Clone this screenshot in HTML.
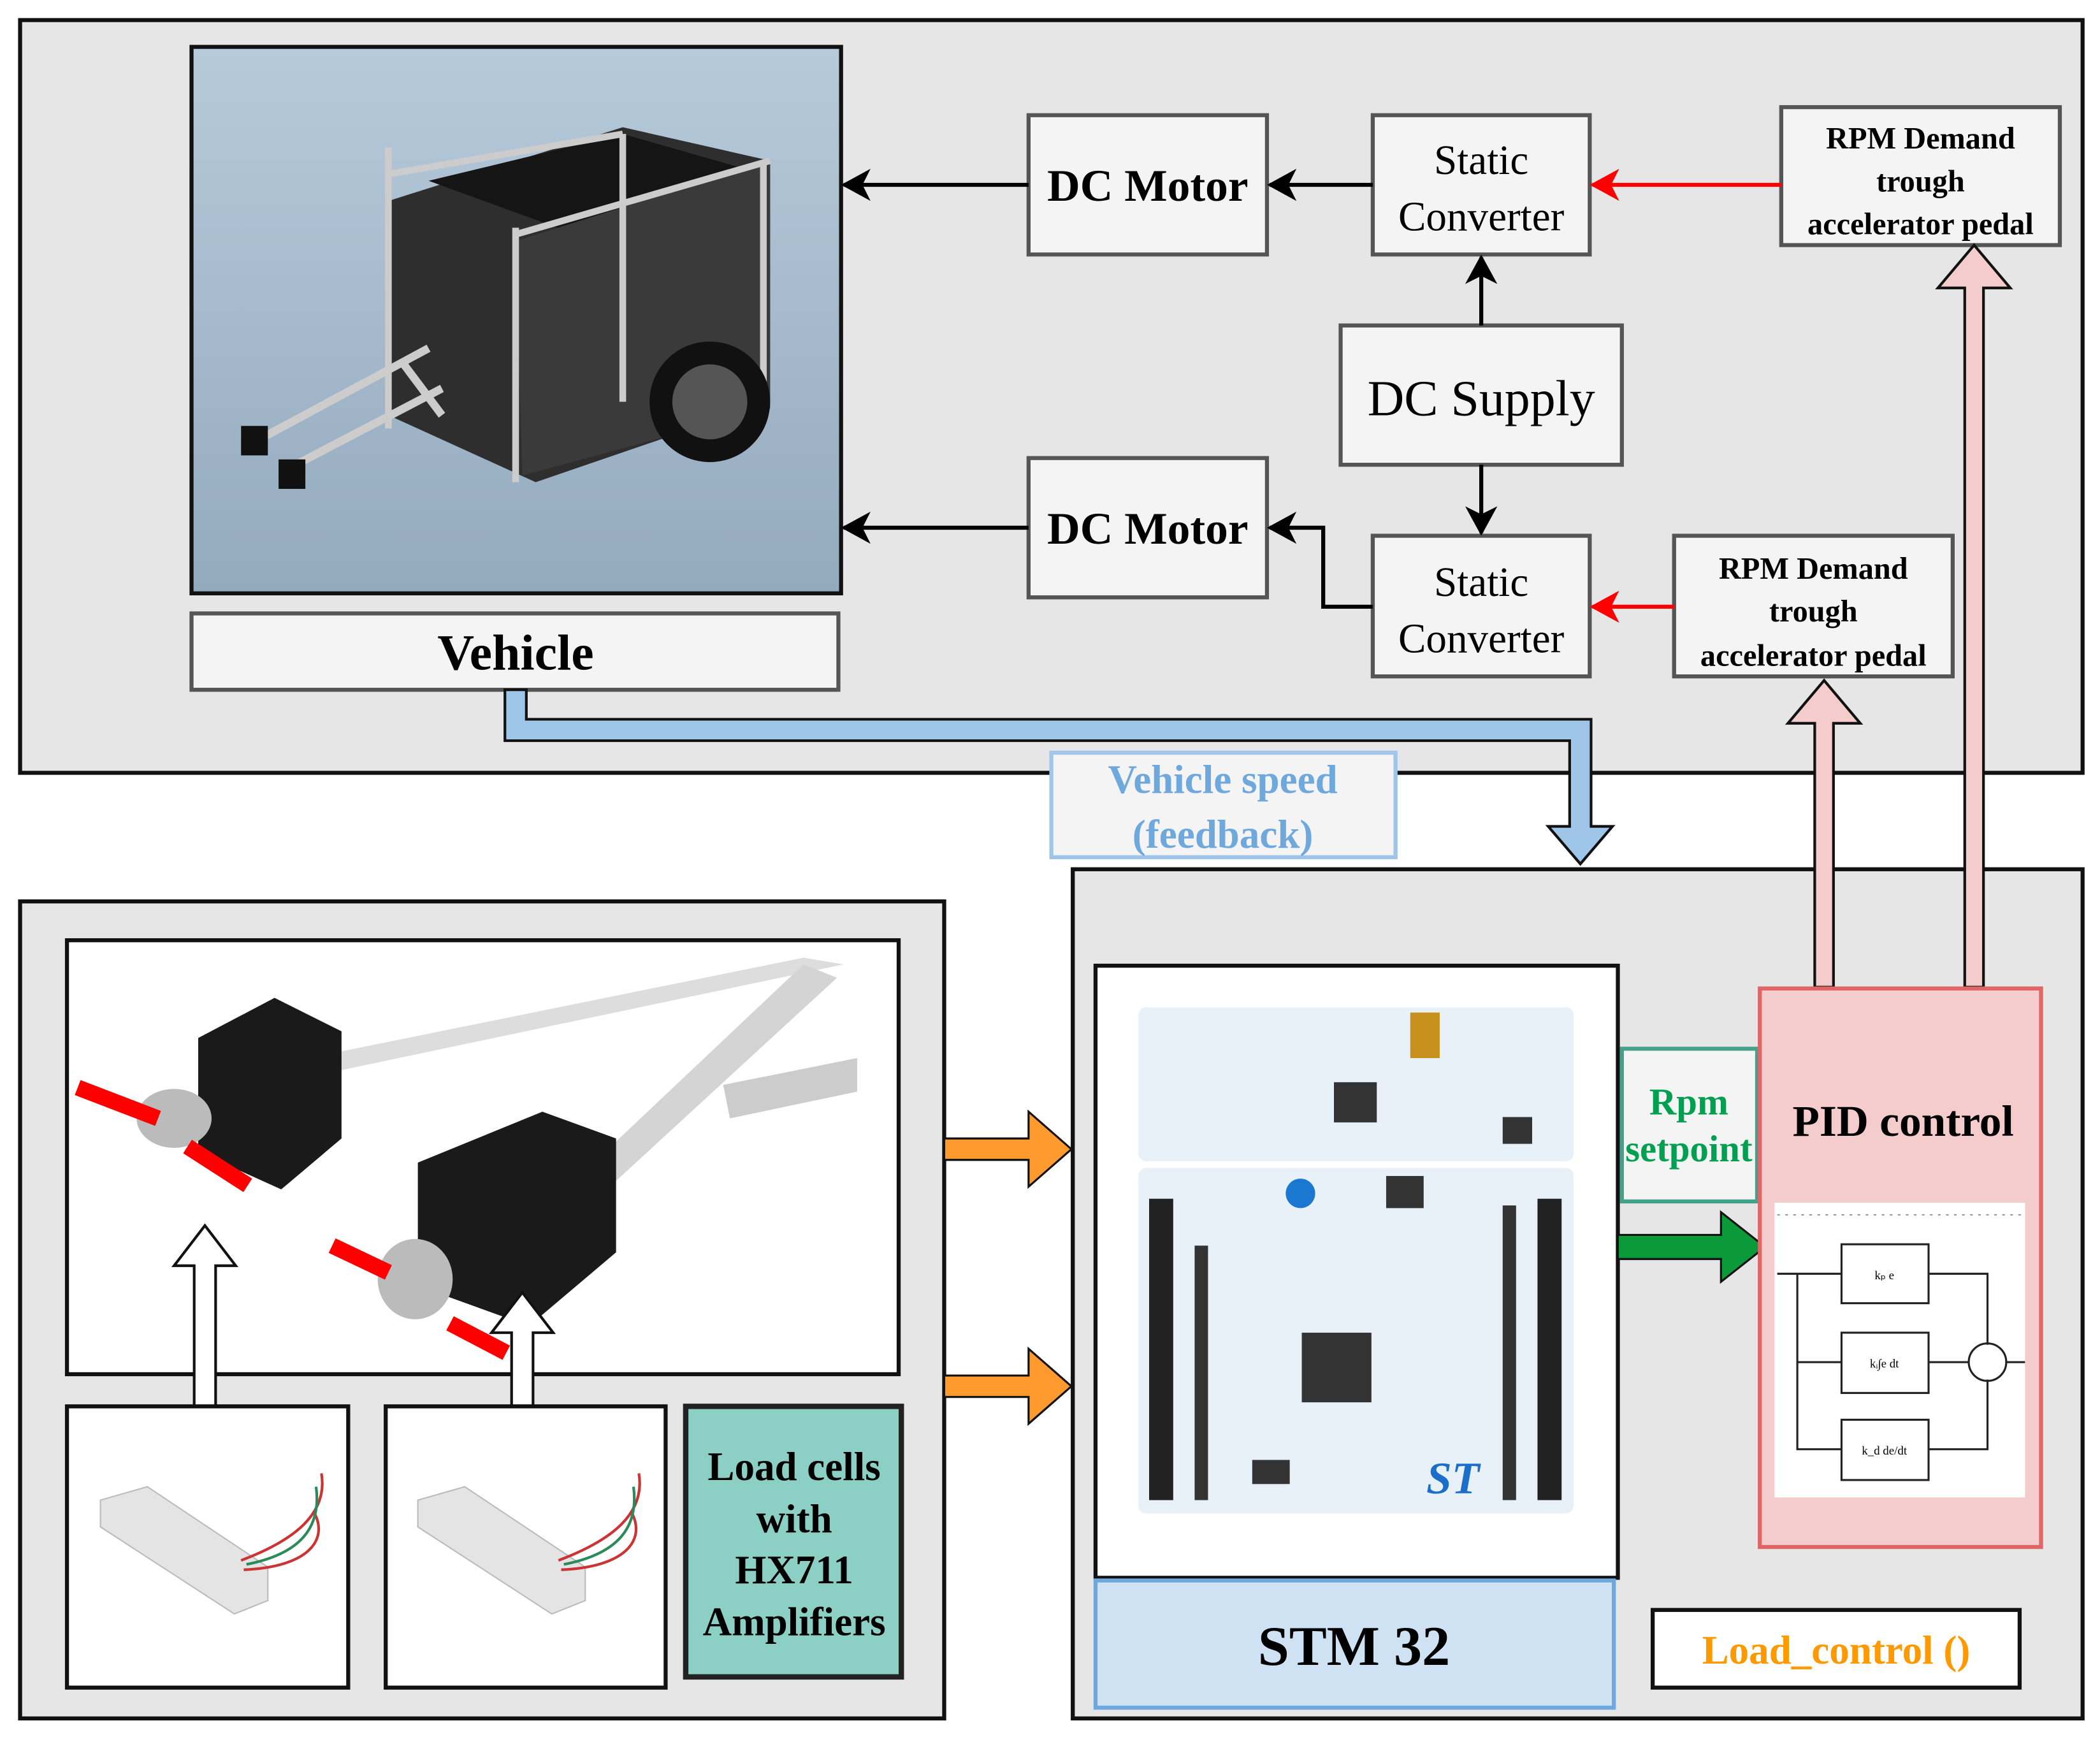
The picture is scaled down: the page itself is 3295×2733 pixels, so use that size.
<!DOCTYPE html>
<html><head><meta charset="utf-8"><style>
html,body{margin:0;padding:0;background:#fff}
svg{display:block}
text{font-family:"Liberation Serif",serif}
</style></head><body>
<svg width="3295" height="2733" viewBox="0 0 1568 1300.6" preserveAspectRatio="none" xmlns="http://www.w3.org/2000/svg">
<defs>
<linearGradient id="sky" x1="0" y1="0" x2="0" y2="1"><stop offset="0" stop-color="#b6cadb"/><stop offset="1" stop-color="#94aabd"/></linearGradient>
<marker id="ah" markerWidth="10" markerHeight="10" refX="9" refY="5" orient="auto" markerUnits="userSpaceOnUse"><path d="M0,0 L10,5 L0,10 L3,5 Z" fill="#000"/></marker>
<marker id="ahb" markerWidth="22" markerHeight="24" refX="20" refY="12" orient="auto" markerUnits="userSpaceOnUse"><path d="M0,0 L22,12 L0,24 L6,12 Z" fill="#000"/></marker>
<marker id="ahr" markerWidth="22" markerHeight="24" refX="20" refY="12" orient="auto" markerUnits="userSpaceOnUse"><path d="M0,0 L22,12 L0,24 L6,12 Z" fill="#f00"/></marker>
</defs>
<rect width="1568" height="1301" fill="#fff"/>
<!-- top panel -->
<rect x="15" y="15" width="1540" height="562" fill="#e6e6e6" stroke="#111" stroke-width="3"/>
<rect x="143" y="35" width="485" height="408" fill="url(#sky)" stroke="#111" stroke-width="3"/>
<!-- cart -->
<g>
<polygon points="290,150 465,95 575,120 575,300 400,360 290,310" fill="#2e2e2e"/>
<polygon points="320,135 465,100 570,130 430,175" fill="#151515"/>
<polygon points="385,180 575,120 575,305 390,355" fill="#3a3a3a"/>
<path d="M290,110 L290,320 M385,170 L385,360 M465,100 L465,300 M570,120 L570,300 M290,130 L465,100 M385,175 L575,120" stroke="#ccc" stroke-width="5" fill="none"/>
<circle cx="530" cy="300" r="45" fill="#111"/><circle cx="530" cy="300" r="28" fill="#555"/>
<path d="M320,260 L190,330 M330,290 L215,350 M300,270 L330,310" stroke="#ccc" stroke-width="6"/>
<rect x="180" y="318" width="20" height="22" fill="#111"/><rect x="208" y="343" width="20" height="22" fill="#111"/>
</g>
<rect x="143" y="458" width="483" height="57" fill="#f4f4f4" stroke="#555" stroke-width="3"/>
<text x="385" y="500" font-size="38" font-weight="bold" text-anchor="middle">Vehicle</text>
<!-- boxes -->
<g fill="#f4f4f4" stroke="#555" stroke-width="3">
<rect x="768" y="86" width="178" height="104"/>
<rect x="1025" y="86" width="162" height="104"/>
<rect x="1330" y="80" width="208" height="103"/>
<rect x="1001" y="243" width="210" height="104"/>
<rect x="768" y="342" width="178" height="104"/>
<rect x="1025" y="400" width="162" height="105"/>
<rect x="1250" y="400" width="208" height="105"/>
</g>
<g text-anchor="middle">
<text x="857" y="150" font-size="34" font-weight="bold">DC Motor</text>
<text x="857" y="406" font-size="34" font-weight="bold">DC Motor</text>
<text x="1106" y="130" font-size="31">Static</text><text x="1106" y="172" font-size="31">Converter</text>
<text x="1106" y="445" font-size="31">Static</text><text x="1106" y="487" font-size="31">Converter</text>
<text x="1106" y="310" font-size="38">DC Supply</text>
<text x="1434" y="111" font-size="23" font-weight="bold">RPM Demand</text><text x="1434" y="143" font-size="23" font-weight="bold">trough</text><text x="1434" y="175" font-size="23" font-weight="bold">accelerator pedal</text>
<text x="1354" y="432" font-size="23" font-weight="bold">RPM Demand</text><text x="1354" y="464" font-size="23" font-weight="bold">trough</text><text x="1354" y="497" font-size="23" font-weight="bold">accelerator pedal</text>
</g>
<g stroke-width="3" fill="none">
<line x1="768" y1="138" x2="630" y2="138" stroke="#000" marker-end="url(#ahb)"/>
<line x1="1025" y1="138" x2="948" y2="138" stroke="#000" marker-end="url(#ahb)"/>
<line x1="1330" y1="138" x2="1189" y2="138" stroke="#f00" marker-end="url(#ahr)"/>
<line x1="768" y1="394" x2="630" y2="394" stroke="#000" marker-end="url(#ahb)"/>
<polyline points="1025,453 988,453 988,394 948,394" stroke="#000" marker-end="url(#ahb)"/>
<line x1="1250" y1="453" x2="1189" y2="453" stroke="#f00" marker-end="url(#ahr)"/>
<line x1="1106" y1="243" x2="1106" y2="192" stroke="#000" marker-end="url(#ahb)"/>
<line x1="1106" y1="347" x2="1106" y2="398" stroke="#000" marker-end="url(#ahb)"/>
</g>
<!-- bottom right panel -->
<rect x="801" y="649" width="754" height="634" fill="#e6e6e6" stroke="#111" stroke-width="3"/>
<!-- blue feedback arrow -->
<path d="M377,515 L393,515 L393,537 L1188,537 L1188,617 L1204,617 L1180,645 L1156,617 L1172,617 L1172,553 L377,553 Z" fill="#9fc5e8" stroke="#111" stroke-width="2"/>
<rect x="785" y="562" width="257" height="78" fill="#f4f4f4" stroke="#9fc5e8" stroke-width="3"/>
<text x="913" y="592" font-size="30" font-weight="bold" fill="#6fa8dc" text-anchor="middle">Vehicle speed</text>
<text x="913" y="633" font-size="30" font-weight="bold" fill="#6fa8dc" text-anchor="middle">(feedback)</text>
<!-- pink arrows -->
<path d="M1355,737 L1355,540 L1335,540 L1362,508 L1389,540 L1369,540 L1369,737 Z" fill="#f4cccc" stroke="#111" stroke-width="2"/>
<path d="M1467,737 L1467,215 L1447,215 L1474,183 L1501,215 L1481,215 L1481,737 Z" fill="#f4cccc" stroke="#111" stroke-width="2"/>
<!-- STM board -->
<rect x="818" y="721" width="390" height="457" fill="#fff" stroke="#111" stroke-width="3"/>
<rect x="850" y="752" width="325" height="115" rx="6" fill="#e8f0f8"/>
<rect x="850" y="872" width="325" height="258" rx="6" fill="#e8f0f8"/>
<rect x="858" y="895" width="18" height="225" fill="#222"/>
<rect x="1148" y="895" width="18" height="225" fill="#222"/>
<rect x="1122" y="900" width="10" height="220" fill="#333"/>
<rect x="892" y="930" width="10" height="190" fill="#333"/>
<rect x="972" y="995" width="52" height="52" fill="#333"/>
<rect x="996" y="808" width="32" height="30" fill="#333"/>
<rect x="1053" y="756" width="22" height="34" fill="#c8901c"/>
<circle cx="971" cy="891" r="11" fill="#1b78d0"/>
<rect x="1035" y="878" width="28" height="24" fill="#333"/>
<rect x="1122" y="834" width="22" height="20" fill="#333"/>
<rect x="935" y="1090" width="28" height="18" fill="#333"/>
<text x="1065" y="1115" font-size="34" font-weight="bold" font-style="italic" fill="#1b6fc8" font-family="Liberation Sans,sans-serif">ST</text>
<rect x="818" y="1180" width="387" height="95" fill="#cfe2f3" stroke="#6fa8dc" stroke-width="3"/>
<text x="1011" y="1243" font-size="42" font-weight="bold" text-anchor="middle">STM 32</text>
<!-- rpm setpoint -->
<rect x="1211" y="783" width="101" height="114" fill="#f4f4f4" stroke="#45a08a" stroke-width="3"/>
<text x="1261" y="832" font-size="28" font-weight="bold" fill="#00a050" text-anchor="middle">Rpm</text>
<text x="1261" y="867" font-size="28" font-weight="bold" fill="#00a050" text-anchor="middle">setpoint</text>
<path d="M1208,922 L1285,922 L1285,905 L1318,931 L1285,957 L1285,940 L1208,940 Z" fill="#0a9a3a" stroke="#111" stroke-width="1.5"/>
<!-- PID -->
<rect x="1314" y="738" width="210" height="417" fill="#f4cccc" stroke="#e06666" stroke-width="3"/>
<text x="1421" y="848" font-size="33" font-weight="bold" text-anchor="middle">PID control</text>
<rect x="1325" y="898" width="187" height="220" fill="#fff"/>
<line x1="1327" y1="907" x2="1510" y2="907" stroke="#999" stroke-dasharray="2,4"/>
<g stroke="#222" stroke-width="1.5" fill="none">
<rect x="1375" y="929" width="65" height="44"/><rect x="1375" y="995" width="65" height="45"/><rect x="1375" y="1060" width="65" height="45"/>
<path d="M1327,951 L1375,951 M1342,951 L1342,1082 L1375,1082 M1342,1017 L1375,1017 M1440,951 L1484,951 L1484,1004 M1440,1017 L1470,1017 M1440,1082 L1484,1082 L1484,1030 M1498,1017 L1512,1017"/>
<circle cx="1484" cy="1017" r="14"/>
</g>
<g font-size="9" text-anchor="middle"><text x="1407" y="955">kₚ e</text><text x="1407" y="1021">kᵢ∫e dt</text><text x="1407" y="1086">k_d de/dt</text></g>
<rect x="1234" y="1202" width="274" height="58" fill="#fff" stroke="#111" stroke-width="3"/>
<text x="1371" y="1242" font-size="30" font-weight="bold" fill="#ff9900" text-anchor="middle">Load_control ()</text>
<!-- bottom left panel -->
<rect x="15" y="673" width="690" height="610" fill="#e6e6e6" stroke="#111" stroke-width="3"/>
<rect x="50" y="702" width="621" height="324" fill="#fff" stroke="#111" stroke-width="3"/>
<g>
<path d="M230,790 L600,715 L630,720 L250,800 Z" fill="#ddd"/>
<path d="M420,890 L600,720 L625,730 L440,900 Z" fill="#d4d4d4"/>
<path d="M540,810 L640,790 L640,815 L545,835 Z" fill="#ccc"/>
<polygon points="148,775 205,745 255,770 255,850 210,888 148,860" fill="#1a1a1a"/>
<polygon points="312,868 405,830 460,850 460,935 395,990 312,960" fill="#1a1a1a"/>
<ellipse cx="130" cy="835" rx="28" ry="22" fill="#bbb"/>
<ellipse cx="310" cy="955" rx="28" ry="30" fill="#bbb"/>
<path d="M58,812 L118,835 M140,856 L185,885 M248,930 L290,950 M336,988 L378,1010" stroke="#f00" stroke-width="12"/>
</g>
<path d="M145,1050 L145,945 L130,945 L153,915 L176,945 L161,945 L161,1050 Z" fill="#fff" stroke="#111" stroke-width="2"/>
<path d="M382,1050 L382,995 L367,995 L390,965 L413,995 L398,995 L398,1050 Z" fill="#fff" stroke="#111" stroke-width="2"/>
<rect x="50" y="1050" width="210" height="210" fill="#fff" stroke="#111" stroke-width="3"/>
<rect x="288" y="1050" width="209" height="210" fill="#fff" stroke="#111" stroke-width="3"/>
<g fill="#e4e4e4" stroke="#bbb"><polygon points="75,1120 110,1110 200,1170 200,1195 175,1205 75,1140"/><polygon points="312,1120 347,1110 437,1170 437,1195 412,1205 312,1140"/></g>
<path d="M180,1165 C220,1150 245,1130 240,1100 M182,1172 C230,1170 245,1150 235,1130 M417,1165 C457,1150 482,1130 477,1100 M419,1172 C467,1170 482,1150 472,1130" stroke="#c33" stroke-width="2" fill="none"/>
<path d="M184,1168 C225,1160 240,1140 236,1110 M421,1168 C462,1160 477,1140 473,1110" stroke="#2a8a5a" stroke-width="2" fill="none"/>
<rect x="512" y="1050" width="161" height="202" fill="#8ccfc4" stroke="#222" stroke-width="4"/>
<g font-size="30" font-weight="bold" text-anchor="middle"><text x="593" y="1105">Load cells</text><text x="593" y="1144">with</text><text x="593" y="1182">HX711</text><text x="593" y="1221">Amplifiers</text></g>
<!-- orange arrows -->
<path d="M705,850 L768,850 L768,830 L800,858 L768,886 L768,866 L705,866 Z" fill="#ff9a2e" stroke="#111" stroke-width="1.5"/>
<path d="M705,1027 L768,1027 L768,1007 L800,1035 L768,1063 L768,1043 L705,1043 Z" fill="#ff9a2e" stroke="#111" stroke-width="1.5"/>
</svg>
</body></html>
